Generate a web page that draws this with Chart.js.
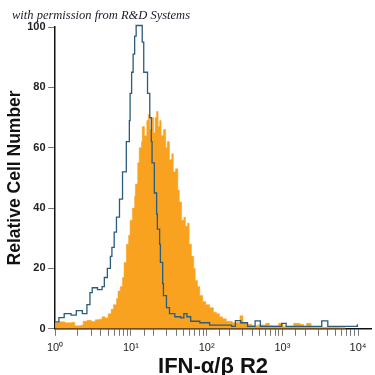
<!DOCTYPE html>
<html>
<head>
<meta charset="utf-8">
<script src="https://cdn.jsdelivr.net/npm/chart.js@4"></script>
<style>
  html, body { margin: 0; padding: 0; background: #fff; }
  #wrap { width: 375px; height: 375px; }
</style>
</head>
<body>
<div id="wrap"><canvas id="histo"></canvas></div>
<script>
// histogramme cytométrie : contrôle (bleu) vs IFN-a/b R2 (orange)

// position des canaux en décades (log10 de l'intensité) et nombre relatif de cellules
const blueDecades = [0.00, 0.05, 0.12, 0.21, 0.28, 0.36, 0.42, 0.46, 0.49, 0.56, 0.62, 0.65, 0.69, 0.73, 0.75, 0.78, 0.81, 0.85, 0.89, 0.94, 0.98, 0.99, 1.01, 1.03, 1.05, 1.07, 1.15, 1.17, 1.22, 1.25, 1.27, 1.28, 1.31, 1.34, 1.35, 1.38, 1.39, 1.42, 1.43, 1.47, 1.51, 1.58, 1.66, 1.70, 1.74, 1.79, 1.91, 2.04, 2.33, 2.38, 2.45, 2.54, 2.64, 2.71, 2.99, 3.05, 3.52, 3.60, 3.99, 4.00];
const blueCounts  = [2.3, 3.7, 5, 4.5, 6, 5, 8, 12, 13.6, 13, 14, 17, 20, 24, 27, 32, 37, 43, 52, 62, 69, 78, 85, 91, 97, 100.5, 95, 85, 78, 70, 62, 55, 45, 38, 33, 28, 22, 15, 11, 7, 5, 4, 3.6, 5, 4, 2.5, 2, 1.2, 0.8, 2.7, 2, 0.8, 2.6, 0.8, 1.8, 0.8, 2.6, 0.8, 1.3, 1.3];

const orangeDecades = [0.00, 0.05, 0.13, 0.23, 0.26, 0.34, 0.37, 0.42, 0.48, 0.53, 0.58, 0.62, 0.66, 0.70, 0.74, 0.77, 0.81, 0.83, 0.86, 0.89, 0.91, 0.94, 0.97, 0.99, 1.02, 1.05, 1.06, 1.09, 1.11, 1.14, 1.15, 1.18, 1.21, 1.23, 1.25, 1.27, 1.30, 1.32, 1.34, 1.36, 1.38, 1.40, 1.43, 1.46, 1.48, 1.51, 1.54, 1.56, 1.59, 1.62, 1.64, 1.67, 1.70, 1.72, 1.75, 1.77, 1.80, 1.83, 1.85, 1.88, 1.91, 1.95, 1.99, 2.04, 2.09, 2.13, 2.17, 2.21, 2.26, 2.34, 2.40, 2.44, 2.48, 2.54, 2.60, 2.68, 2.78, 2.83, 2.95, 3.01, 3.15, 3.23, 3.28, 3.32, 3.38, 3.76, 3.83];
const orangeCounts  = [2, 2.3, 2, 2.2, 1, 1.2, 2.5, 2.8, 2.4, 3, 3.2, 4, 3.6, 5, 6.5, 8, 10, 12.5, 14, 17, 22, 28, 31, 36, 40, 44, 48, 55, 60, 62, 67, 64, 69, 71, 66, 70, 65, 70, 72, 67, 69, 64, 66, 60, 62, 56, 58, 52, 53, 46, 42, 36, 37, 34, 35, 28, 24, 20, 16, 14, 11, 9, 8, 7, 5.5, 5, 4, 3.3, 2.5, 2, 2.2, 4.3, 2, 1.5, 1, 1.3, 1.8, 1, 1.8, 0.8, 1.8, 1.5, 0.8, 1.8, 0.5, 0.4, 0];

const xTickDecades = [0, 1, 2, 3, 4];
const yTicks = [0, 20, 40, 60, 80, 100];

const SUP = ['\u2070', '\u00b9', '\u00b2', '\u00b3', '\u2074'];

function toPoints(decades, counts) {
  return decades.map((d, i) => ({ x: Math.pow(10, d), y: counts[i] }));
}

// mention en haut à gauche (le titre de Chart.js ne se décale pas à gauche)
const mentionPlugin = {
  id: 'mention',
  afterDraw(chart) {
    const c = chart.ctx;
    c.save();
    c.font = 'italic 12.5px "Liberation Serif"';
    c.fillStyle = '#1a1a2a';
    c.textBaseline = 'alphabetic';
    c.fillText('with permission from R&D Systems', 12, 19);
    c.restore();
  }
};

const ctx = document.getElementById('histo');

new Chart(ctx, {
  type: 'line',
  data: {
    datasets: [
      {
        label: 'Isotype',
        data: toPoints(blueDecades, blueCounts),
        stepped: 'before', // la valeur d'un canal tient jusqu'au canal suivant
        borderColor: '#2c5b7c',
        borderWidth: 1.3,
        pointRadius: 0,
        fill: false,
        clip: false // le sommet dépasse un peu la graduation 100
      },
      {
        label: 'IFN-a/b R2',
        data: toPoints(orangeDecades, orangeCounts),
        stepped: 'before',
        borderColor: '#f8a21f',
        borderWidth: 0.5,
        backgroundColor: '#f8a21f',
        pointRadius: 0,
        fill: 'origin'
      }
    ]
  },
  plugins: [mentionPlugin],
  options: {
    responsive: true,
    maintainAspectRatio: false,
    animation: false,
    layout: { padding: { left: 4, right: 4, top: 27, bottom: 0 } },
    plugins: {
      legend: { display: false },
      tooltip: { enabled: false },
      title: { display: false }
    },
    scales: {
      x: {
        type: 'logarithmic',
        min: 1,
        max: 14800,
        afterBuildTicks: scale => {
          scale.ticks = scale.ticks.filter(t => t.value <= 10000);
        },
        border: { display: true, color: '#111', width: 1.5 },
        grid: { display: true, drawOnChartArea: false, drawTicks: true, tickLength: 7, color: '#777' },
        ticks: {
          autoSkip: false,
          maxRotation: 0,
          padding: 6,
          color: '#222',
          font: { family: 'Liberation Sans', size: 11 },
          callback: value => {
            const l = Math.log10(value);
            const r = Math.round(l);
            if (Math.abs(l - r) < 1e-6 && xTickDecades.includes(r)) return '10' + SUP[r];
            return '';
          }
        },
        title: {
          display: true,
          text: 'IFN-\u03b1/\u03b2 R2',
          color: '#111',
          font: { family: 'Liberation Sans', size: 22, weight: 'bold', lineHeight: 1 },
          padding: { top: -5, bottom: -3 }
        }
      },
      y: {
        min: 0,
        max: 100,
        afterBuildTicks: scale => {
          scale.ticks = yTicks.map(v => ({ value: v }));
        },
        border: { display: true, color: '#111', width: 1.5 },
        grid: { display: true, drawOnChartArea: false, drawTicks: true, tickLength: 7, color: '#777' },
        ticks: {
          padding: 2.5,
          color: '#222',
          font: { family: 'Liberation Sans', size: 11, weight: 'bold' }
        },
        title: {
          display: true,
          text: 'Relative Cell Number',
          color: '#111',
          font: { family: 'Liberation Sans', size: 17.5, weight: 'bold', lineHeight: 1 },
          padding: { top: 2.25, bottom: 1 }
        }
      }
    }
  }
});
</script>
</body>
</html>
